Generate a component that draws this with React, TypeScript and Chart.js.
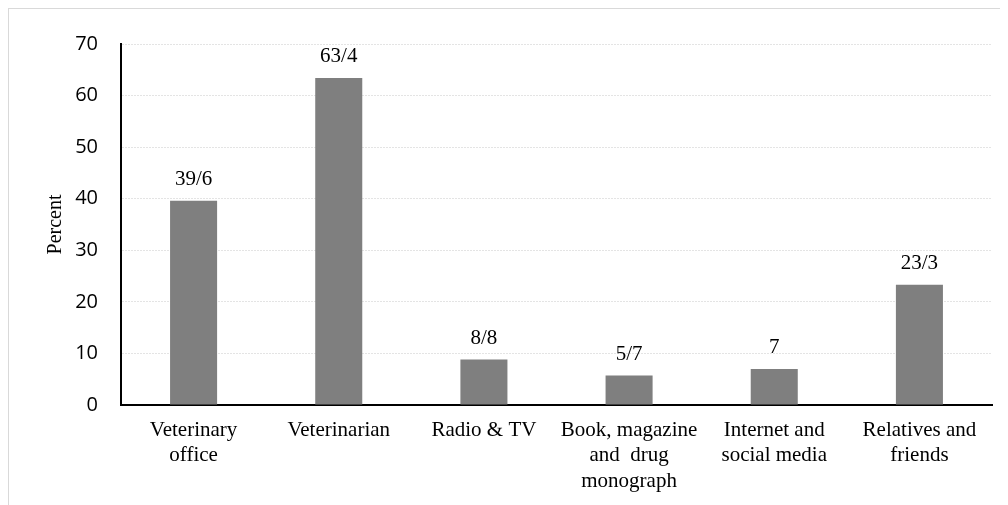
import React, { useEffect, useRef } from "react";
import { Chart, registerables } from "chart.js";

Chart.register(...registerables);

const categories: string[][] = [
  ["Veterinary", "office"],
  ["Veterinarian"],
  ["Radio & TV"],
  ["Book, magazine", "and  drug", "monograph"],
  ["Internet and", "social media"],
  ["Relatives and", "friends"],
];
const values: number[] = [39.6, 63.4, 8.8, 5.7, 7, 23.3];
const valueLabels: string[] = ["39/6", "63/4", "8/8", "5/7", "7", "23/3"];
const yTicks = { min: 0, max: 70, step: 10 };
const yTitle = "Percent";

const SERIF = "'Liberation Serif', 'Times New Roman', serif";

const barLabelPlugin = {
  id: "barLabels",
  afterDatasetsDraw(chart: any) {
    const ctx = chart.ctx;
    const meta = chart.getDatasetMeta(0);
    ctx.save();
    ctx.font = `21px ${SERIF}`;
    ctx.fillStyle = "#000";
    ctx.textAlign = "center";
    ctx.textBaseline = "alphabetic";
    meta.data.forEach((bar: any, i: number) => {
      ctx.fillText(valueLabels[i], bar.x, bar.y - 16);
    });
    ctx.restore();
  },
};

export default function App() {
  const ref = useRef<HTMLCanvasElement | null>(null);
  useEffect(() => {
    if (!ref.current) return;
    const chart = new Chart(ref.current, {
      type: "bar",
      data: {
        labels: categories,
        datasets: [
          {
            data: values,
            backgroundColor: "#7f7f7f",
            borderWidth: 0,
            categoryPercentage: 1,
            barPercentage: 0.324,
          },
        ],
      },
      options: {
        animation: false,
        responsive: false,
        maintainAspectRatio: false,
        layout: { padding: { top: 28, right: 16, left: 0, bottom: 0 } },
        plugins: {
          legend: { display: false },
          tooltip: { enabled: false },
        },
        scales: {
          x: {
            grid: { display: false, drawTicks: false },
            border: { display: true, color: "#000", width: 2 },
            ticks: {
              color: "#000",
              font: { family: SERIF, size: 21, lineHeight: 1.2 },
              padding: 13,
              maxRotation: 0,
              autoSkip: false,
            },
            afterFit: (s: any) => {
              s.height = 100;
            },
          },
          y: {
            min: yTicks.min,
            max: yTicks.max,
            ticks: {
              stepSize: yTicks.step,
              color: "#000",
              font: { family: "'Open Sans', sans-serif", size: 20 },
              padding: 23,
            },
            grid: {
              color: "#e4e4e4",
              lineWidth: 1,
              drawTicks: false,
            },
            border: { display: true, color: "#000", width: 2, dash: [2, 1] } as any,
            title: {
              display: true,
              text: yTitle,
              color: "#000",
              font: { family: SERIF, size: 20, lineHeight: 1.2 },
              padding: { top: 35, bottom: 0 },
            },
            afterFit: (s: any) => {
              s.width = 112;
            },
          },
        },
      },
      plugins: [barLabelPlugin],
    });
    return () => chart.destroy();
  }, []);

  return (
    <div
      style={{
        position: "relative",
        margin: "-1px 0 0 -1px",
        width: 1001,
        height: 498,
        borderTop: "2px solid #d9d9d9",
        borderLeft: "2px solid #d9d9d9",
        background: "#fff",
        overflow: "hidden",
      }}
    >
      <canvas ref={ref} width={999} height={496} style={{ display: "block" }} />
    </div>
  );
}
